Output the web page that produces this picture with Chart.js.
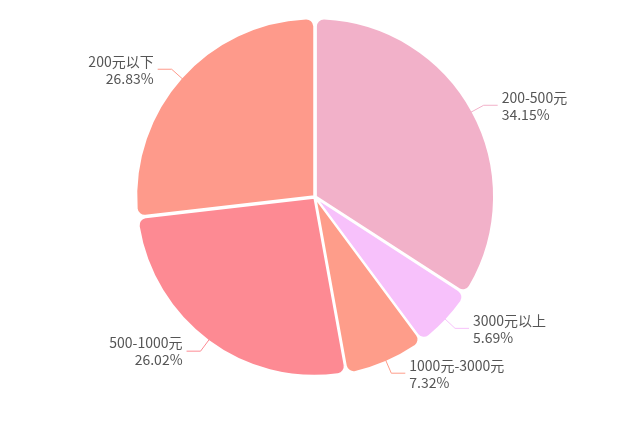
<!DOCTYPE html>
<html><head><meta charset="utf-8">
<script src="https://cdn.jsdelivr.net/npm/chart.js@4/dist/chart.umd.min.js"></script>
<style>html,body{margin:0;background:#fff}#wrap{width:641px;height:425px}</style>
</head><body><div id="wrap"><canvas id="c"></canvas></div>
<script>
const categories = ['200-500元', '3000元以上', '1000元-3000元', '500-1000元', '200元以下'];
const values = [34.15, 5.69, 7.32, 26.02, 26.83];
const percentLabels = ['34.15%', '5.69%', '7.32%', '26.02%', '26.83%'];
const colors = ['#f2b1c9', '#f7c1fb', '#fe9d8a', '#fd8a93', '#fe9a8b'];

const labelPlugin = {
    id: 'outLabels',
    afterDatasetsDraw(chart) {
        const ctx = chart.ctx;
        const arcs = chart.getDatasetMeta(0).data;
        ctx.save();
        ctx.font = '14px "Noto Sans CJK SC", "Noto Sans", sans-serif';
        ctx.textBaseline = 'middle';
        arcs.forEach((arc, i) => {
            const mid = (arc.startAngle + arc.endAngle) / 2;
            const r = arc.outerRadius;
            const cos = Math.cos(mid), sin = Math.sin(mid);
            const x0 = arc.x + cos * (r - 2), y0 = arc.y + sin * (r - 2);
            const x1 = arc.x + cos * (r + 14), y1 = arc.y + sin * (r + 14);
            const right = cos >= 0;
            const x2 = x1 + (right ? 14 : -14);
            ctx.strokeStyle = colors[i];
            ctx.lineWidth = 1;
            ctx.beginPath();
            ctx.moveTo(x0, y0); ctx.lineTo(x1, y1); ctx.lineTo(x2, y1);
            ctx.stroke();
            ctx.fillStyle = '#555';
            ctx.textAlign = right ? 'left' : 'right';
            const tx = x2 + (right ? 4 : -4);
            ctx.fillText(categories[i], tx, y1 - 8);
            ctx.fillText(percentLabels[i], tx, y1 + 9);
        });
        ctx.restore();
    }
};

new Chart(document.getElementById('c'), {
    type: 'pie',
    data: {
        labels: categories,
        datasets: [{
            data: values,
            backgroundColor: colors,
            borderColor: '#fff',
            borderWidth: 2,
            borderRadius: 8,
            offset: 4
        }]
    },
    options: {
        responsive: true,
        maintainAspectRatio: false,
        animation: false,
        layout: { padding: { top: 16, bottom: 47, left: 0, right: 11 } },
        plugins: { legend: { display: false }, tooltip: { enabled: false } }
    },
    plugins: [labelPlugin]
});
</script></body></html>
